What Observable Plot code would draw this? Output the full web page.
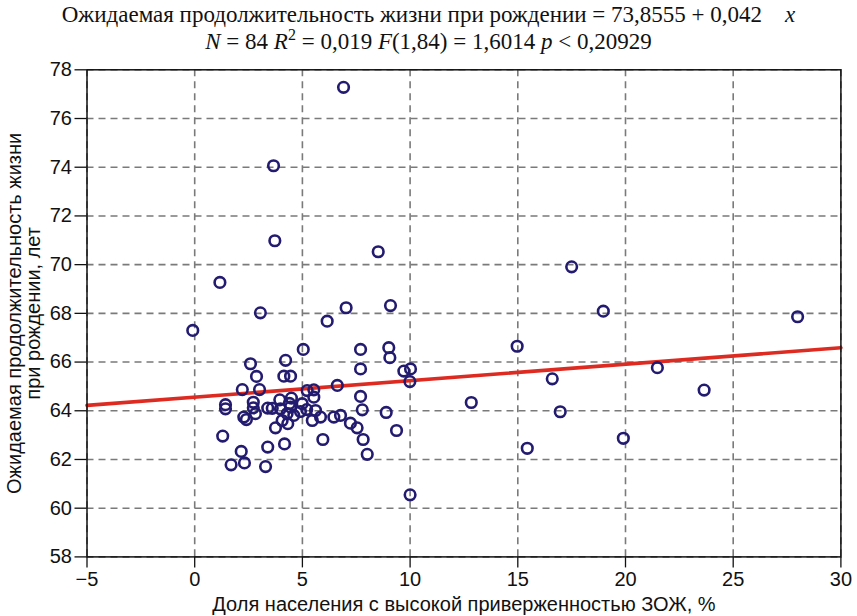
<!DOCTYPE html>
<html>
<head>
<meta charset="utf-8">
<script src="https://cdn.jsdelivr.net/npm/d3@7"></script>
<script src="https://cdn.jsdelivr.net/npm/@observablehq/plot@0.6"></script>
<style>
  html, body { margin: 0; padding: 0; background: #fff; }
  #title { width: 857px; height: 58px; font-family: "Liberation Serif", "Times New Roman", serif; font-size: 23px; line-height: 27px; text-align: center; color: #111; padding-top: 1px; box-sizing: border-box; }
  #chart svg { display: block; }
</style>
</head>
<body>
<div id="title">
  <div>Ожидаемая продолжительность жизни при рождении = 73,8555 + 0,042&nbsp;&nbsp;&nbsp;&nbsp;<i>x</i></div>
  <div><i>N</i> = 84 <i>R</i><sup style="font-size:16px;line-height:0">2</sup> = 0,019 <i>F</i>(1,84) = 1,6014 <i>p</i> &lt; 0,20929</div>
</div>
<div id="chart"></div>
<script>
const xValues = [
  -0.09, 3.05, 6.15, 7.03, 9.09, 5.04, 2.59, 4.22, 7.70, 9.01,
  9.06, 2.87, 4.14, 4.45, 7.70, 9.71, 10.02, 9.99, 2.21, 3.01,
  6.62, 5.22, 5.53, 3.95, 4.49, 5.53, 7.70, 1.43, 1.43, 2.72,
  2.72, 2.82, 3.39, 3.98, 4.45, 4.99, 4.29, 4.60, 4.91, 5.61,
  5.84, 6.46, 6.77, 5.46, 7.78, 8.89, 2.28, 2.40, 4.06, 4.32,
  3.75, 7.23, 7.54, 9.37, 1.30, 7.82, 5.95, 2.16, 3.39, 4.17,
  8.01, 1.69, 2.31, 3.29, 6.91, 3.66, 3.72, 8.52, 1.17, 17.50,
  18.97, 27.99, 14.97, 16.60, 21.48, 23.65, 12.84, 16.97, 15.44, 19.90,
  10.00, 4.40, 5.20, 3.60
];
const yValues = [
  67.30, 68.02, 67.68, 68.23, 68.32, 66.52, 65.93, 66.07, 66.52, 66.59,
  66.18, 65.41, 65.42, 65.42, 65.72, 65.63, 65.72, 65.20, 64.87, 64.87,
  65.04, 64.83, 64.86, 64.45, 64.52, 64.56, 64.59, 64.25, 64.08, 64.35,
  64.12, 63.88, 64.11, 64.08, 64.15, 64.29, 63.88, 63.81, 63.97, 64.01,
  63.74, 63.74, 63.81, 63.60, 64.04, 63.93, 63.74, 63.64, 63.60, 63.47,
  63.30, 63.49, 63.30, 63.19, 62.96, 62.82, 62.82, 62.33, 62.51, 62.64,
  62.21, 61.78, 61.86, 61.71, 77.28, 74.06, 70.98, 70.53, 69.27, 69.91,
  68.09, 67.86, 66.65, 65.31, 65.77, 64.85, 64.34, 63.96, 62.46, 62.87,
  60.55, 64.30, 64.05, 64.10
];
const fitX = [-5, 30];
const fitY = [64.22, 66.59];
const xTicks = [-5, 0, 5, 10, 15, 20, 25, 30];
const yTicks = [58, 60, 62, 64, 66, 68, 70, 72, 74, 76, 78];
const xLabel = "Доля населения с высокой приверженностью ЗОЖ, %";
const yLabel = "Ожидаемая продолжительность жизни\nпри рождении, лет";

const points = xValues.map((x, i) => ({x, y: yValues[i]}));
const fit = fitX.map((x, i) => ({x, y: fitY[i]}));

const chart = Plot.plot({
  width: 857,
  height: 558,
  marginLeft: 86.5,
  marginRight: 16.6,
  marginTop: 11.3,
  marginBottom: 59.6,
  style: {fontFamily: "'Liberation Sans', Arial, sans-serif", fontSize: "20px", color: "#111", background: "#fff"},
  x: {domain: [-5, 30]},
  y: {domain: [58, 78]},
  marks: [
    Plot.gridX(xTicks, {stroke: "#7a7a7a", strokeOpacity: 1, strokeWidth: 1.6, strokeDasharray: "7,5"}),
    Plot.gridY(yTicks, {stroke: "#7a7a7a", strokeOpacity: 1, strokeWidth: 1.6, strokeDasharray: "7,5"}),
    Plot.axisX(xTicks, {tickSize: 11, tickPadding: 4, stroke: "#111", strokeWidth: 1.3, label: null, fontSize: 20}),
    Plot.axisY(yTicks, {tickSize: 12, tickPadding: 3, stroke: "#111", strokeWidth: 1.3, label: null, fontSize: 20}),
    Plot.line(fit, {x: "x", y: "y", stroke: "#dd2b22", strokeWidth: 3.6}),
    Plot.dot(points, {x: "x", y: "y", r: 5.3, stroke: "#231b6f", strokeWidth: 2.6, fill: "none"}),
    Plot.frame({stroke: "#111", strokeWidth: 1.5}),
    Plot.text([xLabel], {frameAnchor: "bottom", dy: 48, fontSize: 20, textAnchor: "middle", lineAnchor: "middle", fill: "#111"}),
    Plot.text([yLabel], {frameAnchor: "left", dx: -63, rotate: -90, fontSize: 20, textAnchor: "middle", lineAnchor: "middle", lineHeight: 0.95, fill: "#111"})
  ]
});
document.getElementById("chart").appendChild(chart);
</script>
</body>
</html>
